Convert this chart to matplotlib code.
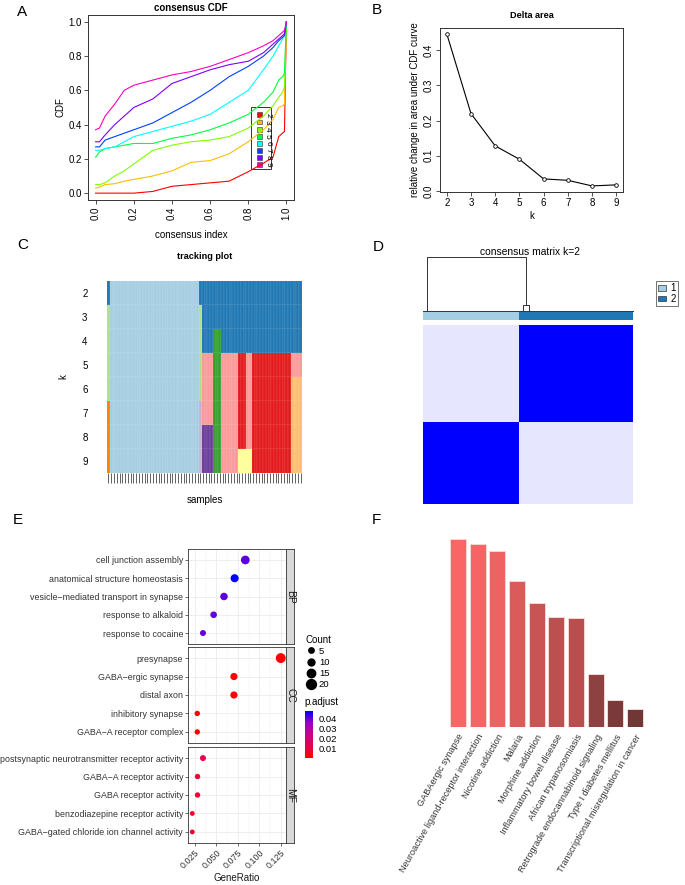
import numpy as np
import matplotlib
matplotlib.use('Agg')
import matplotlib.pyplot as plt
from matplotlib.colors import ListedColormap, LinearSegmentedColormap, Normalize
from matplotlib.patches import Rectangle, Patch
from matplotlib.lines import Line2D
import matplotlib.colorbar as mcolorbar

plt.rcParams['font.family'] = ['Liberation Sans', 'DejaVu Sans']

# ---------------- A: consensus CDF ----------------
cdf_k = [2, 3, 4, 5, 6, 7, 8, 9]
cdf_x = [0.0, 0.02, 0.05, 0.1, 0.15, 0.2, 0.3, 0.4, 0.5, 0.6, 0.7, 0.8, 0.88, 0.93, 0.96, 0.98, 0.99, 1.0]
cdf_k2 = [0, 0, 0, 0, 0, 0, 0.01, 0.04, 0.05, 0.06, 0.07, 0.125, 0.175, 0.21, 0.33, 0.35, 0.36, 1.0]
cdf_k3 = [0.03, 0.035, 0.05, 0.055, 0.07, 0.08, 0.10, 0.13, 0.18, 0.19, 0.23, 0.30, 0.37, 0.43, 0.50, 0.51, 0.52, 1.0]
cdf_k4 = [0.05, 0.05, 0.06, 0.10, 0.13, 0.17, 0.25, 0.28, 0.30, 0.31, 0.33, 0.38, 0.45, 0.51, 0.56, 0.59, 0.62, 1.0]
cdf_k5 = [0.21, 0.24, 0.26, 0.27, 0.28, 0.29, 0.29, 0.32, 0.34, 0.37, 0.41, 0.46, 0.53, 0.59, 0.66, 0.68, 0.70, 1.0]
cdf_k6 = [0.25, 0.25, 0.26, 0.27, 0.30, 0.33, 0.36, 0.39, 0.42, 0.46, 0.53, 0.60, 0.72, 0.80, 0.86, 0.90, 0.92, 1.0]
cdf_k7 = [0.27, 0.27, 0.31, 0.33, 0.35, 0.37, 0.41, 0.47, 0.53, 0.60, 0.68, 0.74, 0.80, 0.85, 0.89, 0.91, 0.92, 1.0]
cdf_k8 = [0.30, 0.30, 0.34, 0.40, 0.45, 0.50, 0.55, 0.64, 0.68, 0.72, 0.75, 0.77, 0.82, 0.87, 0.90, 0.92, 0.93, 1.0]
cdf_k9 = [0.37, 0.38, 0.45, 0.52, 0.60, 0.63, 0.66, 0.69, 0.71, 0.74, 0.78, 0.82, 0.86, 0.89, 0.92, 0.94, 0.95, 1.0]
cdf_colors = ['#FF0000', '#FFBF00', '#80FF00', '#00FF40', '#00FFFF', '#0040FF', '#8000FF', '#FF00BF']

# ---------------- B: delta area ----------------
delta_k = [2, 3, 4, 5, 6, 7, 8, 9]
delta_area = [0.447, 0.220, 0.128, 0.090, 0.034, 0.030, 0.014, 0.017]

# ---------------- C: tracking plot ----------------
track_k = [2, 3, 4, 5, 6, 7, 8, 9]
paired = ['#A6CEE3', '#1F78B4', '#B2DF8A', '#33A02C', '#FB9A99', '#E31A1C',
          '#FDBF6F', '#FF7F00', '#CAB2D6', '#6A3D9A', '#FFFF99']
track_group_sizes = [1, 32, 1, 4, 3, 6, 3, 2, 14, 4]
track_group_clusters = [
    [1, 2, 2, 2, 2, 7, 7, 7],
    [0, 0, 0, 0, 0, 0, 0, 0],
    [1, 2, 2, 2, 2, 8, 8, 8],
    [1, 1, 1, 4, 4, 4, 9, 9],
    [1, 1, 3, 3, 3, 3, 3, 3],
    [1, 1, 1, 4, 4, 4, 4, 4],
    [1, 1, 1, 5, 5, 5, 5, 10],
    [1, 1, 1, 4, 4, 4, 4, 10],
    [1, 1, 1, 5, 5, 5, 5, 5],
    [1, 1, 1, 4, 6, 6, 6, 6],
]

# ---------------- D: consensus matrix k=2 ----------------
cons_sizes = [32, 38]
cons_within = 1.0
cons_between = 0.1
dend_root_h = 1.0
dend_root_legs = [1.3, 34.2]
dend_sub_h = 0.11
dend_sub_legs = [33.2, 35.4]

# ---------------- E: GO dot plot ----------------
bp_terms = ['cell junction assembly', 'anatomical structure homeostasis',
            'vesicle\u2212mediated transport in synapse', 'response to alkaloid',
            'response to cocaine']
bp_ratio = [0.0835, 0.0711, 0.0587, 0.0467, 0.0343]
bp_count = [16, 14, 12, 9, 7]
bp_padj = [0.041, 0.048, 0.041, 0.040, 0.040]

cc_terms = ['presynapse', 'GABA\u2212ergic synapse', 'distal axon',
            'inhibitory synapse', 'GABA\u2212A receptor complex']
cc_ratio = [0.1247, 0.0703, 0.0703, 0.0277, 0.0277]
cc_count = [20, 11, 11, 5, 5]
cc_padj = [0.0004, 0.0006, 0.0006, 0.0008, 0.0008]

mf_terms = ['postsynaptic neurotransmitter receptor activity', 'GABA\u2212A receptor activity',
            'GABA receptor activity', 'benzodiazepine receptor activity',
            'GABA\u2212gated chloride ion channel activity']
mf_ratio = [0.0343, 0.0280, 0.0280, 0.0219, 0.0219]
mf_count = [7, 5, 5, 3, 3]
mf_padj = [0.012, 0.008, 0.008, 0.007, 0.007]

# ---------------- F: KEGG bar chart ----------------
kegg_terms = ['GABAergic synapse', 'Neuroactive ligand-receptor interaction', 'Nicotine addiction',
              'Malaria', 'Morphine addiction', 'Inflammatory bowel disease',
              'African trypanosomiasis', 'Retrograde endocannabinoid signaling',
              'Type I diabetes mellitus', 'Transcriptional misregulation in cancer']
kegg_scores = [5.63, 5.47, 5.26, 4.36, 3.70, 3.30, 3.27, 1.59, 0.82, 0.55]
kegg_colors = ['#FA6666', '#F66565', '#EE6262', '#DB5B5B', '#C95454',
               '#BC4F4F', '#BA4E4E', '#8D4141', '#7A3A3A', '#713636']

W, H = 685, 885
fig = plt.figure(figsize=(W / 100, H / 100), dpi=100)


def box(x0, y0, x1, y1):
    return [x0 / W, 1 - y1 / H, (x1 - x0) / W, (y1 - y0) / H]


def rbase(ax):
    for s in ax.spines.values():
        s.set_linewidth(0.7)
        s.set_color('#333333')
    ax.tick_params(length=3, width=0.6, labelsize=7, pad=1.5, color='#333333')


# panel letters
for letter, (px, py) in zip('ABCDEF', [(17, 5), (372, 3), (17, 238), (373, 240), (13, 513), (372, 513)]):
    fig.text(px / W, 1 - py / H, letter, fontsize=11, ha='left', va='top')

# ---- A ----
axA = fig.add_axes(box(88, 15, 294, 200))
cdf_all = [cdf_k2, cdf_k3, cdf_k4, cdf_k5, cdf_k6, cdf_k7, cdf_k8, cdf_k9]
for yv, col in zip(cdf_all, cdf_colors):
    axA.plot(cdf_x, yv, color=col, lw=0.8)
axA.set_xlim(-0.04, 1.04)
axA.set_ylim(-0.04, 1.04)
axA.set_xticks([0, 0.2, 0.4, 0.6, 0.8, 1.0])
axA.set_xticklabels(['0.0', '0.2', '0.4', '0.6', '0.8', '1.0'], rotation=90)
axA.set_yticks([0, 0.2, 0.4, 0.6, 0.8, 1.0])
axA.set_yticklabels(['0.0', '0.2', '0.4', '0.6', '0.8', '1.0'])
rbase(axA)
axA.set_title('consensus CDF', fontsize=7, fontweight='bold', pad=3)
axA.set_ylabel('CDF', fontsize=7)
axA.yaxis.set_label_coords(-0.11, 0.5)
axA.set_xlabel('consensus index', fontsize=7)
axA.xaxis.set_label_coords(0.5, -0.16)
# legend
axA.add_patch(Rectangle((0.79, 0.165), 0.097, 0.34, transform=axA.transAxes,
                        fill=False, lw=0.7, ec='#333333'))
for i, (k, col) in enumerate(zip(cdf_k, cdf_colors)):
    yy = 0.46 - i * 0.0385
    axA.add_patch(Rectangle((0.818, yy - 0.013), 0.025, 0.026, transform=axA.transAxes,
                            fc=col, ec='#333333', lw=0.4))
    axA.text(0.872, yy, str(k), transform=axA.transAxes, fontsize=6,
             rotation=-90, ha='center', va='center')

# ---- B ----
axB = fig.add_axes(box(440, 28, 623, 192))
axB.plot(delta_k, delta_area, color='black', lw=0.8, marker='o', ms=2.6,
         mfc='white', mec='black', mew=0.6)
axB.set_xlim(1.72, 9.28)
axB.set_ylim(-0.0033, 0.4637)
axB.set_xticks(delta_k)
axB.set_yticks([0, 0.1, 0.2, 0.3, 0.4])
axB.set_yticklabels(['0.0', '0.1', '0.2', '0.3', '0.4'], rotation=90, va='center')
rbase(axB)
axB.set_title('Delta area', fontsize=6.6, fontweight='bold', pad=7)
axB.set_xlabel('k', fontsize=7, labelpad=2)
axB.set_ylabel('relative change in area under CDF curve', fontsize=7, labelpad=3)

# ---- C ----
axC = fig.add_axes(box(107, 281, 302, 473))
track_mat = np.array([np.repeat([g[r] for g in track_group_clusters], track_group_sizes)
                      for r in range(len(track_k))])
n_samp = track_mat.shape[1]
axC.pcolormesh(np.arange(n_samp + 1), np.arange(len(track_k) + 1), track_mat,
               cmap=ListedColormap(paired), vmin=-0.5, vmax=10.5,
               edgecolors=(1, 1, 1, 0.05), linewidth=0.3)
axC.set_xlim(0, n_samp)
axC.set_ylim(len(track_k), 0)
axC.set_yticks(np.arange(len(track_k)) + 0.5)
axC.set_yticklabels([str(k) for k in track_k])
axC.set_xticks(np.arange(n_samp) + 0.5)
axC.set_xticklabels([])
for s in axC.spines.values():
    s.set_visible(False)
axC.tick_params(axis='y', length=0, labelsize=7, pad=14)
axC.tick_params(axis='x', length=7, width=0.5, color='#222222')
axC.set_title('tracking plot', fontsize=6.6, fontweight='bold', pad=16)
axC.set_xlabel('samples', fontsize=7, labelpad=5)
axC.set_ylabel('k', fontsize=7, labelpad=10)

# ---- D ----
labels = np.repeat([0, 1], cons_sizes)
cons_mat = np.where(labels[:, None] == labels[None, :], cons_within, cons_between)
axD = fig.add_axes(box(423, 325, 633, 504))
axD.imshow(cons_mat[::-1], cmap=LinearSegmentedColormap.from_list('wb', ['white', 'blue']),
           vmin=0, vmax=1, aspect='auto', interpolation='nearest')
axD.axis('off')

axDc = fig.add_axes(box(423, 312, 633, 320))
axDc.imshow(labels[None, :], cmap=ListedColormap(paired[:2]), vmin=-0.5, vmax=1.5,
            aspect='auto', interpolation='nearest')
axDc.axis('off')

axDd = fig.add_axes(box(423, 257, 633, 311))
n_all = sum(cons_sizes)
dk = dict(color='#333333', lw=0.7, clip_on=False)
axDd.plot([0, n_all], [0, 0], **dk)
axDd.plot([dend_root_legs[0], dend_root_legs[0], dend_root_legs[1], dend_root_legs[1]],
          [0, dend_root_h, dend_root_h, dend_sub_h], **dk)
axDd.plot([dend_sub_legs[0], dend_sub_legs[0], dend_sub_legs[1], dend_sub_legs[1]],
          [0, dend_sub_h, dend_sub_h, 0], **dk)
axDd.set_xlim(0, n_all)
axDd.set_ylim(0, 1)
axDd.axis('off')
fig.text(530 / W, 1 - 252 / H, 'consensus matrix k=2', fontsize=7.4, ha='center', va='center')
fig.legend(handles=[Patch(fc=paired[0], ec='#333333', lw=0.5), Patch(fc=paired[1], ec='#333333', lw=0.5)],
           labels=['1', '2'], loc='upper left', bbox_to_anchor=(656 / W, 1 - 281 / H),
           fontsize=7, frameon=True, fancybox=False, edgecolor='#333333',
           handlelength=0.8, handleheight=0.55, handletextpad=0.4, borderpad=0.25,
           labelspacing=0.05, borderaxespad=0).get_frame().set_linewidth(0.6)

# ---- E ----
padj_cmap = LinearSegmentedColormap.from_list('padj', ['#FF0000', '#E8004F', '#CA0089', '#9A00C3', '#0000FF'])
padj_norm = Normalize(0.0002, 0.048)


def size_pt(c):
    return (5.4 + (np.asarray(c) - 5) * 4.5 / 15) * 0.72


facets = [('BP', bp_terms, bp_ratio, bp_count, bp_padj, (549, 644)),
          ('CC', cc_terms, cc_ratio, cc_count, cc_padj, (647, 743)),
          ('MF', mf_terms, mf_ratio, mf_count, mf_padj, (747, 843))]
major = [0.025, 0.05, 0.075, 0.1, 0.125]
minor = [0.0375, 0.0625, 0.0875, 0.1125]
for i, (name, terms, ratio, count, padj, (y0, y1)) in enumerate(facets):
    ax = fig.add_axes(box(188, y0, 286, y1))
    ypos = np.arange(len(terms))[::-1]
    for xv in major:
        ax.axvline(xv, color='#EBEBEB', lw=0.6, zorder=0)
    for xv in minor:
        ax.axvline(xv, color='#F2F2F2', lw=0.35, zorder=0)
    for yv in ypos:
        ax.axhline(yv, color='#EBEBEB', lw=0.6, zorder=0)
    ax.scatter(ratio, ypos, s=size_pt(count) ** 2, c=padj, cmap=padj_cmap, norm=padj_norm,
               edgecolors='none', zorder=3)
    ax.set_xlim(0.0169, 0.1308)
    ax.set_ylim(-0.6, len(terms) - 0.4)
    ax.set_yticks(ypos)
    ax.set_yticklabels(terms)
    ax.set_xticks(major)
    for s in ax.spines.values():
        s.set_color('#333333')
        s.set_linewidth(0.6)
    ax.tick_params(length=2, width=0.5, color='#333333', labelsize=6.4, labelcolor='#333333', pad=1.5)
    if i < 2:
        ax.tick_params(axis='x', bottom=False, labelbottom=False)
    else:
        ax.set_xticklabels(['0.025', '0.050', '0.075', '0.100', '0.125'],
                           rotation=45, ha='right', rotation_mode='anchor')
        ax.set_xlabel('GeneRatio', fontsize=7, color='#1A1A1A', labelpad=2)
    st = fig.add_axes(box(286, y0, 294.5, y1))
    st.set_facecolor('#D9D9D9')
    st.set_xticks([])
    st.set_yticks([])
    for s in st.spines.values():
        s.set_color('#333333')
        s.set_linewidth(0.6)
    st.text(0.5, 0.5, name, rotation=-90, ha='center', va='center', fontsize=7.4,
            color='#1A1A1A', transform=st.transAxes)

cnt_breaks = [5, 10, 15, 20]
fig.legend(handles=[Line2D([], [], ls='', marker='o', color='black', markersize=size_pt(c))
                    for c in cnt_breaks],
           labels=[str(c) for c in cnt_breaks], title='Count', alignment='left',
           loc='upper left', bbox_to_anchor=(301 / W, 1 - 630 / H), frameon=False,
           fontsize=6.8, title_fontsize=7, handletextpad=0.2, labelspacing=0.22,
           borderpad=0, handlelength=1.2)
fig.text(304 / W, 1 - 702 / H, 'p.adjust', fontsize=7, ha='left', va='center')
cax = fig.add_axes(box(305, 711, 313, 758))
cb = mcolorbar.ColorbarBase(cax, cmap=padj_cmap, norm=padj_norm, ticks=[0.01, 0.02, 0.03, 0.04])
cb.outline.set_visible(False)
cax.set_yticklabels(['0.01', '0.02', '0.03', '0.04'])
cax.tick_params(length=2, color='white', width=0.5, labelsize=6.8, pad=2)

# ---- F ----
axF = fig.add_axes(box(448, 530, 645, 727))
xF = np.arange(len(kegg_terms))
axF.bar(xF, kegg_scores, width=0.81, color=kegg_colors, edgecolor='#F7D6D6', linewidth=0.7)
axF.set_xlim(-0.5, len(kegg_terms) - 0.5)
axF.set_ylim(0, 5.9)
axF.set_xticks(xF)
axF.set_xticklabels(kegg_terms, rotation=60, ha='right', rotation_mode='anchor',
                    fontsize=6.6, color='#333333')
axF.tick_params(axis='x', length=0, pad=4)
axF.set_yticks([])
for s in axF.spines.values():
    s.set_visible(False)

fig.savefig('out.png', dpi=100)
